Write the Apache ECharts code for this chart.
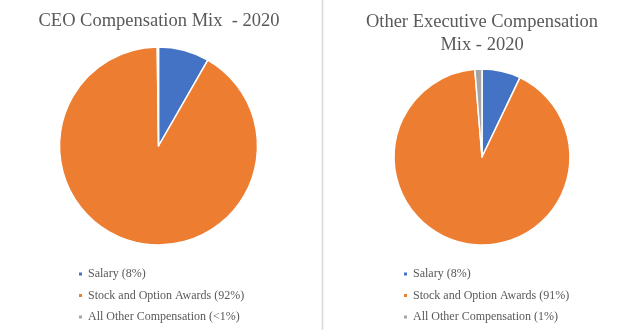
<!DOCTYPE html>
<html>
<head>
<meta charset="utf-8">
<script src="https://cdn.jsdelivr.net/npm/echarts@6/dist/echarts.min.js"></script>
<style>html,body{margin:0;padding:0;background:#fff}#c{width:623px;height:330px}</style>
</head>
<body>
<div id="c"></div>
<script>
var ceoTitle = 'CEO Compensation Mix  - 2020';
var otherTitle = 'Other Executive Compensation\nMix - 2020';
var ceoNames = ['Salary (8%)', 'Stock and Option Awards (92%)', 'All Other Compensation (<1%)'];
var ceoValues = [8.3, 91.5, 0.2];
var otherNames = ['Salary (8%)', 'Stock and Option Awards (91%)', 'All Other Compensation (1%)'];
var otherValues = [7.1, 91.6, 1.3];
var colors = ['#4472C4', '#ED7D31', '#A5A5A5'];

var FONT = '"Liberation Serif", "Times New Roman", serif';
function mk(names, values) {
  return names.map(function (n, i) { return { name: n, value: values[i], itemStyle: { color: colors[i] } }; });
}
var chart = echarts.init(document.getElementById('c'));
var legendText = { fontFamily: FONT, fontSize: 12, color: '#595959' };
chart.setOption({
  animation: false,
  title: [
    { text: ceoTitle, left: 159, top: 12, padding: 0, textAlign: 'center', textStyle: { fontFamily: FONT, fontSize: 18.5, fontWeight: 'normal', color: '#595959' } },
    { text: otherTitle, left: 482, top: 11, padding: 0, textAlign: 'center', textStyle: { fontFamily: FONT, fontSize: 18.5, fontWeight: 'normal', color: '#595959', lineHeight: 23 } }
  ],
  legend: [
    { orient: 'vertical', left: 77, top: 268, padding: 0, icon: 'rect', itemWidth: 5, itemHeight: 5, itemGap: 9.5, textStyle: legendText, data: ceoNames, selectedMode: false },
    { orient: 'vertical', left: 402, top: 268, padding: 0, icon: 'rect', itemWidth: 5, itemHeight: 5, itemGap: 9.5, textStyle: legendText, data: otherNames, selectedMode: false }
  ],
  graphic: [
    { type: 'line', shape: { x1: 322.5, y1: 0, x2: 322.5, y2: 330 }, style: { stroke: '#d9d9d9', lineWidth: 1.5 } }
  ],
  series: [
    { type: 'pie', center: [158.5, 146], radius: [0, 99], startAngle: 90, clockwise: true, label: { show: false }, labelLine: { show: false },
      itemStyle: { borderColor: '#fff', borderWidth: 1.5 }, emphasis: { disabled: true }, data: mk(ceoNames, ceoValues) },
    { type: 'pie', center: [482, 157], radius: [0, 88], startAngle: 90, clockwise: true, label: { show: false }, labelLine: { show: false },
      itemStyle: { borderColor: '#fff', borderWidth: 1.5 }, emphasis: { disabled: true }, data: mk(otherNames, otherValues) }
  ]
});
</script>
</body>
</html>
